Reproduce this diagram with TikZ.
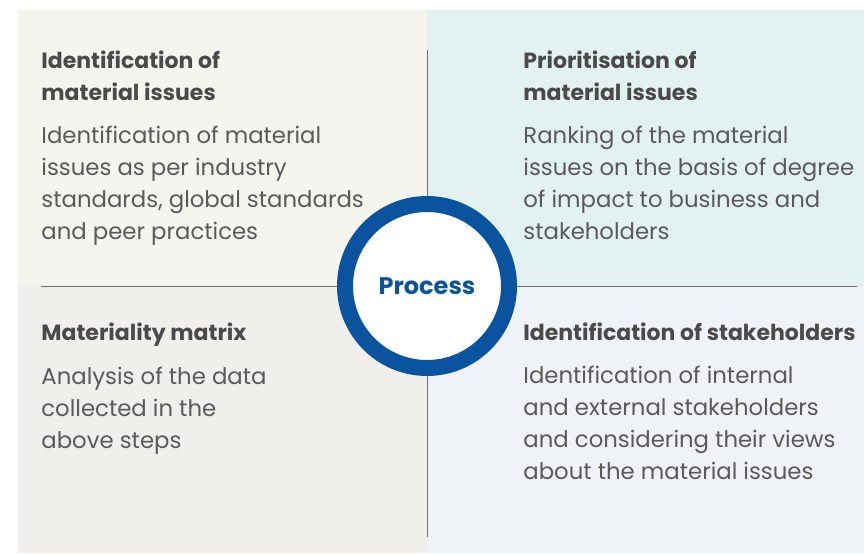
\documentclass[tikz,border=0pt]{standalone}
\usepackage{fontspec}
\setmainfont{Poppins}
\usetikzlibrary{positioning}
\definecolor{bgTL}{HTML}{F4F5EF}
\definecolor{bgTR}{HTML}{E3F1F1}
\definecolor{bgBL}{HTML}{F0EFEC}
\definecolor{bgBR}{HTML}{EFF2F7}
\definecolor{ringblue}{HTML}{0A539E}
\definecolor{headgray}{HTML}{4A4A4A}
\definecolor{bodygray}{HTML}{5A5A5A}
\definecolor{rulegray}{HTML}{6E6E6E}
\begin{document}
\begin{tikzpicture}[x=1pt, y=-1pt, line width=0.8pt,
  heading/.style={anchor=north west, inner sep=0pt, align=left, text=headgray,
    font=\fontsize{22}{32}\selectfont\bfseries},
  bodytext/.style={anchor=north west, inner sep=0pt, align=left, text=bodygray,
    font=\fontsize{22.8}{32}\selectfont}]
  \useasboundingbox (0,0) rectangle (864,554);
  % quadrant backgrounds
  \fill[bgTL] (18,10) rectangle (427,286);
  \fill[bgTR] (427,10) rectangle (864,286);
  \fill[bgBL] (18,286) rectangle (427,553);
  \fill[bgBR] (427,286) rectangle (864,553);
  % dividing rules
  \draw[rulegray] (427,50) -- (427,537);
  \draw[rulegray] (41,286) -- (857,286);
  % top left
  \node[heading] (identH) at (41,50) {Identification of\\material issues};
  \node[bodytext, below=25pt of identH.south west, anchor=north west] (identB)
    {Identification of material\\issues as per industry\\standards, global standards\\and peer practices};
  % top right
  \node[heading] (prioH) at (523,50) {Prioritisation of\\material issues};
  \node[bodytext, below=25pt of prioH.south west, anchor=north west] (prioB)
    {Ranking of the material\\issues on the basis of degree\\of impact to business and\\stakeholders};
  % bottom left
  \node[heading] (matrixH) at (41,322) {Materiality matrix};
  \node[bodytext, below=20pt of matrixH.south west, anchor=north west] (matrixB)
    {Analysis of the data\\collected in the\\above steps};
  % bottom right
  \node[heading] (stakeH) at (523,322) {Identification of stakeholders};
  \node[bodytext, below=25pt of stakeH.south west, anchor=north west] (stakeB)
    {Identification of internal\\and external stakeholders\\and considering their views\\about the material issues};
  % centre ring
  \node[circle, draw=ringblue, line width=16pt, fill=white, minimum size=164pt,
    text=ringblue, font=\fontsize{24}{28}\selectfont\bfseries] (process) at (427,286) {Process};
\end{tikzpicture}
\end{document}
